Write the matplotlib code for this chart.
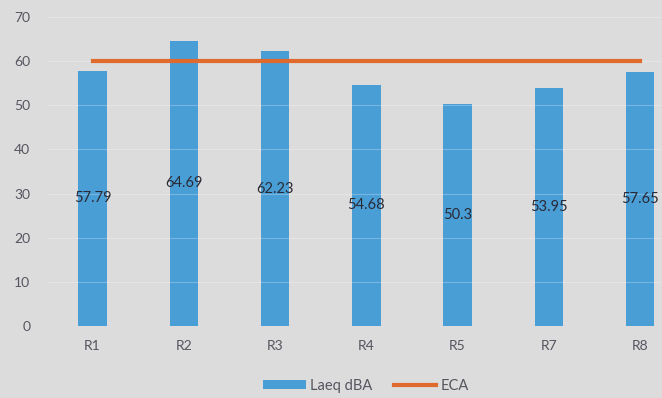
import matplotlib.pyplot as plt

plt.rcParams['font.family'] = ['Lato', 'DejaVu Sans']

categorias = ['R1', 'R2', 'R3', 'R4', 'R5', 'R7', 'R8']
laeq = [57.79, 64.69, 62.23, 54.68, 50.3, 53.95, 57.65]
eca = [60, 60, 60, 60, 60, 60, 60]
etiquetas = ['57.79', '64.69', '62.23', '54.68', '50.3', '53.95', '57.65']

fondo = '#dcdcdc'
fig = plt.figure(figsize=(6.62, 3.98), dpi=100, facecolor=fondo)
ax = fig.add_axes([0.071, 0.181, 0.929, 0.776], facecolor=fondo)

x = list(range(len(categorias)))
barras = ax.bar(x, laeq, width=0.31, color='#4a9ed6', label='Laeq dBA', zorder=2)
linea, = ax.plot(x, eca, color='#e0692e', linewidth=3, label='ECA', zorder=3)

# lineas de la cuadricula, se ven tenues sobre las barras
for y in range(10, 80, 10):
    ax.axhline(y, color='white', linewidth=0.8, alpha=0.25, zorder=2.5)

for xi, v, t in zip(x, laeq, etiquetas):
    ax.text(xi, v / 2, t, ha='center', va='center', fontsize=10.5,
            color='#2a2a35', zorder=4)

ax.set_ylim(0, 70)
ax.set_xlim(-0.5, 6.24)
ax.set_yticks(range(0, 80, 10))
ax.set_xticks(x)
ax.set_xticklabels(categorias)
ax.tick_params(axis='both', length=0, labelsize=10, colors='#555560')
ax.tick_params(axis='y', pad=12)
ax.tick_params(axis='x', pad=10)
for s in ax.spines.values():
    s.set_visible(False)

fig.legend([barras, linea], ['Laeq dBA', 'ECA'], loc='lower center',
           bbox_to_anchor=(0.553, -0.02), ncol=2,
           frameon=False, fontsize=10.5, labelcolor='#555560',
           handlelength=2.9, handleheight=0.6, columnspacing=1.5,
           handletextpad=0.3)

fig.savefig('out.png', dpi=100, facecolor=fondo)
